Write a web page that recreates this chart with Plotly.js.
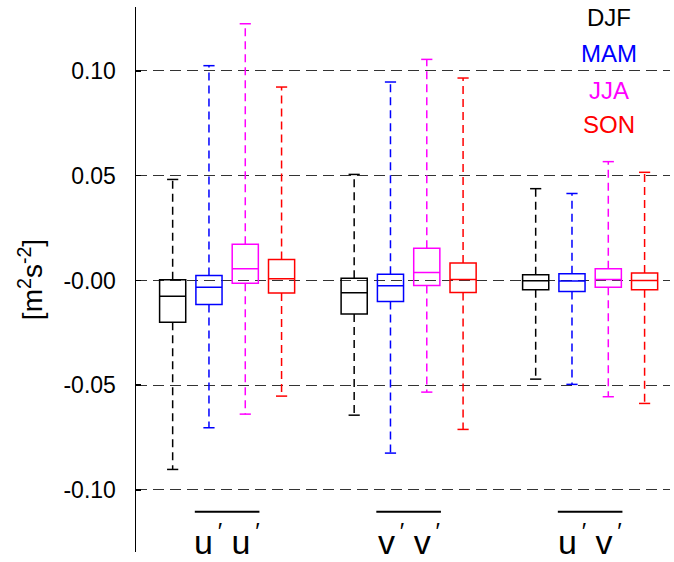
<!DOCTYPE html>
<html>
<head>
<meta charset="utf-8">
<script src="https://cdn.plot.ly/plotly-3.0.1.min.js"></script>
<style>html,body{margin:0;padding:0;background:#fff;}#chart{width:674px;height:562px;}</style>
</head>
<body>
<div id="chart"></div>
<script>
// ---- data ----
var variables = ["u<sup>\u2009′</sup> u<sup>\u2009′</sup>", "v<sup>\u2009′</sup> v<sup>\u2009′</sup>", "u<sup>\u2009′</sup> v<sup>\u2009′</sup>"];
var seasons = ["DJF", "MAM", "JJA", "SON"];
var seasonColors = ["#000000", "#0000ff", "#ff00ff", "#ff0000"];

// per season: values for [u'u', v'v', u'v']
var whiskerMax = [
  [0.0482, 0.0506, 0.0438],
  [0.1025, 0.0947, 0.0415],
  [0.1225, 0.1055, 0.0567],
  [0.0923, 0.0966, 0.0516]
];
var q3 = [
  [0.0003, 0.0011, 0.0027],
  [0.0024, 0.0030, 0.0032],
  [0.0173, 0.0154, 0.0056],
  [0.0100, 0.0083, 0.0035]
];
var median = [
  [-0.0076, -0.0059, -0.0001],
  [-0.0032, -0.0025, -0.0003],
  [0.0056, 0.0038, 0.0005],
  [0.0008, 0.0005, 0.0000]
];
var q1 = [
  [-0.0200, -0.0160, -0.0044],
  [-0.0115, -0.0100, -0.0053],
  [-0.0013, -0.0024, -0.0033],
  [-0.0060, -0.0057, -0.0044]
];
var whiskerMin = [
  [-0.0902, -0.0643, -0.0471],
  [-0.0703, -0.0824, -0.0496],
  [-0.0638, -0.0533, -0.0555],
  [-0.0552, -0.0711, -0.0587]
];

var yTickVals = [-0.10, -0.05, 0.00, 0.05, 0.10];
var yTickText = ["-0.10", "-0.05", "-0.00", "0.05", "0.10"];

// ---- layout helpers ----
var groupStep = 5;
function pos(g, s) { return g * groupStep + s; }

var FONT = "Liberation Sans, Arial, Helvetica, sans-serif";
var traces = [];

seasons.forEach(function (name, s) {
  var xs = variables.map(function (v, g) { return pos(g, s); });
  // box (no built-in whiskers)
  traces.push({
    type: "box",
    name: name,
    x: xs,
    q1: q1[s],
    median: median[s],
    q3: q3[s],
    lowerfence: q1[s],
    upperfence: q3[s],
    width: 0.72,
    line: { color: seasonColors[s], width: 1.5 },
    fillcolor: "rgba(0,0,0,0)",
    hoverinfo: "skip",
    showlegend: false
  });
  // dashed whiskers
  var wx = [], wy = [];
  xs.forEach(function (x, g) {
    wx.push(x, x, null, x, x, null);
    wy.push(q3[s][g], whiskerMax[s][g], null, q1[s][g], whiskerMin[s][g], null);
  });
  traces.push({
    type: "scatter", mode: "lines", x: wx, y: wy,
    line: { color: seasonColors[s], width: 1.5, dash: "8px,5px" },
    hoverinfo: "skip", showlegend: false
  });
  // caps
  var cx = [], cy = [];
  xs.forEach(function (x, g) {
    cx.push(x, x);
    cy.push(whiskerMax[s][g], whiskerMin[s][g]);
  });
  traces.push({
    type: "scatter", mode: "markers", x: cx, y: cy,
    marker: { symbol: "line-ew", size: 8, line: { color: seasonColors[s], width: 1.5 } },
    hoverinfo: "skip", showlegend: false
  });
});

var annotations = [];
var shapes = [];
variables.forEach(function (v, g) {
  var c = pos(g, 1.5);
  annotations.push({
    xref: "x", yref: "paper", x: c, y: -0.02, yanchor: "bottom", xanchor: "center",
    text: v, showarrow: false, font: { family: FONT, size: 34, color: "#000" }
  });
  shapes.push({
    type: "line", xref: "x", yref: "paper",
    x0: c - 0.89, x1: c + 0.89, y0: 0.074, y1: 0.074,
    line: { color: "#000", width: 2 }
  });
});
var legendY = [0.981, 0.915, 0.847, 0.785];
seasons.forEach(function (name, s) {
  annotations.push({
    xref: "paper", yref: "paper", x: 0.885, y: legendY[s], xanchor: "center", yanchor: "middle",
    text: name, showarrow: false, font: { family: FONT, size: 24, color: seasonColors[s] }
  });
});

var layout = {
  width: 674, height: 562,
  margin: { l: 136, r: 4, t: 7, b: 10 },
  paper_bgcolor: "#fff", plot_bgcolor: "#fff",
  showlegend: false,
  boxmode: "overlay",
  font: { family: FONT, color: "#000" },
  xaxis: {
    range: [-1.01, 13.7], showgrid: false, zeroline: false,
    showticklabels: false, ticks: "", showline: false, fixedrange: true
  },
  yaxis: {
    range: [-0.1296, 0.1305],
    tickvals: yTickVals, ticktext: yTickText,
    ticks: "inside", ticklen: 5, tickwidth: 1.5, tickcolor: "#000",
    ticklabelstandoff: 14,
    tickfont: { family: FONT, size: 23, color: "#000" },
    showgrid: true, gridcolor: "#333", gridwidth: 1, griddash: "11px,6px",
    zeroline: false,
    showline: true, linecolor: "#000", linewidth: 1.5,
    title: { text: "[m<sup>2</sup>s<sup>-2</sup>]", font: { family: FONT, size: 28, color: "#000" }, standoff: 12 },
    automargin: false
  },
  annotations: annotations,
  shapes: shapes
};

Plotly.newPlot("chart", traces, layout, { displayModeBar: false, staticPlot: true });
</script>
</body>
</html>
